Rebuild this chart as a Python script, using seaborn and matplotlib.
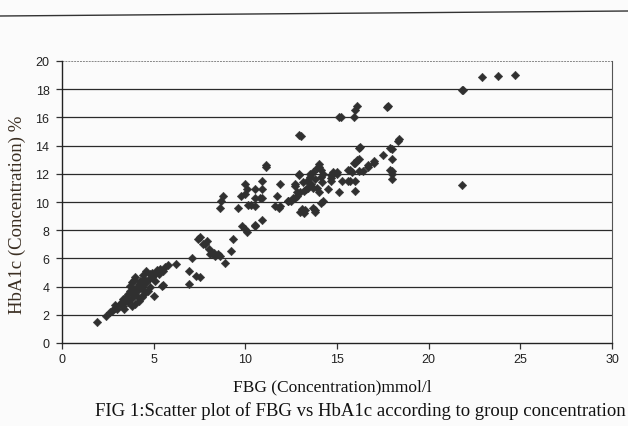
import matplotlib
matplotlib.use("Agg")
import matplotlib.pyplot as plt
import seaborn as sns
import pandas as pd
from matplotlib.lines import Line2D

# FBG (mmol/l) values
fbg = [
    1.9, 2.4, 2.6, 2.7, 2.9, 2.9, 3.15, 3.25, 3.35, 3.45, 3.5, 3.6, 3.7, 3.7, 3.8, 3.9,
    4.0, 4.1, 4.2, 4.25, 4.45, 4.6, 4.8, 5.0, 5.2, 5.35, 5.6, 5.8, 6.2, 5.45, 5.0, 4.0,
    4.45, 4.35, 4.8, 4.7, 4.5, 4.9, 5.07, 3.3, 3.4, 3.6, 3.8, 3.9, 4.0, 4.1, 4.2, 4.3,
    4.4, 4.6, 4.7, 4.2, 3.6, 3.8, 4.4, 4.9, 5.5, 5.3, 5.5, 3.0, 3.9,
    6.9, 6.9, 7.5, 7.1, 7.3, 7.4, 7.5, 7.7, 7.9, 7.8, 8.0, 8.1, 8.2, 8.35, 8.5, 8.6,
    8.3, 8.9, 9.2, 9.35, 9.8, 10.1, 10.0, 10.5, 10.9, 8.6, 8.7, 8.8, 9.6, 9.75, 10.0,
    10.1, 10.0, 10.15, 10.3, 10.5, 10.5, 10.8, 10.9, 10.9, 10.9, 10.5, 10.5, 11.1, 11.15,
    11.6, 11.75, 11.9, 11.85, 11.9, 12.3, 12.35, 12.5, 12.6, 12.7, 12.8, 12.7, 12.7,
    12.95, 12.95, 12.8, 13.0, 13.2, 13.0, 13.1, 13.25, 13.2, 12.95, 13.05,
    13.15, 13.35, 13.5, 13.7, 14.0, 14.1, 13.9, 14.0, 14.25, 13.4, 13.6, 13.8, 13.9,
    14.0, 14.1, 13.5, 13.7, 14.2, 13.3,
    13.7, 13.8, 13.8, 14.1, 14.25, 14.5, 14.7, 14.8, 15.1, 15.0, 14.7, 15.0, 15.25,
    15.6, 15.7, 15.6, 15.8, 16.0, 16.0, 16.0, 15.9, 15.7, 16.1, 16.2, 16.25, 16.2,
    16.4, 16.2, 16.7, 16.7, 17.0, 17.0, 17.5, 18.0, 17.9, 18.0, 18.0, 18.0, 17.9, 18.0,
    18.4, 18.35, 14.8, 14.7,
    15.1, 15.2, 15.9, 16.0, 16.1, 17.8, 17.75,
    21.8, 21.9, 22.9, 23.8, 24.7, 21.8,
]

# HbA1c (%) values
hba1c = [
    1.5, 1.9, 2.2, 2.3, 2.5, 2.7, 2.75, 2.9, 3.1, 3.0, 3.25, 3.5, 3.7, 4.05, 4.3, 3.8,
    4.65, 3.95, 4.2, 4.4, 4.55, 5.1, 4.9, 4.8, 5.2, 5.25, 5.4, 5.5, 5.6, 4.05, 3.35, 2.75,
    3.5, 3.25, 3.95, 3.7, 3.7, 4.65, 4.4, 2.6, 2.4, 2.9, 3.2, 3.4, 3.6, 3.3, 3.8, 3.9,
    4.1, 4.3, 4.5, 3.0, 3.0, 2.6, 4.8, 5.0, 4.1, 4.9, 5.1, 2.4, 4.5,
    5.1, 4.2, 4.7, 6.0, 4.75, 7.4, 7.5, 7.0, 7.2, 7.0, 6.7, 6.3, 6.4, 6.2, 6.3, 6.2,
    6.4, 5.7, 6.5, 7.4, 8.3, 7.9, 8.1, 8.3, 8.75, 9.6, 10.1, 10.45, 9.55, 10.45, 11.3,
    10.9, 10.6, 9.8, 9.8, 10.9, 10.3, 10.3, 11.5, 10.9, 10.25, 9.75, 8.4, 12.6, 12.5,
    9.7, 10.45, 11.3, 9.55, 9.7, 10.1, 10.1, 10.1, 10.25, 10.3, 10.45, 11.3, 11.15,
    12.0, 11.9, 10.7, 10.7, 10.8, 9.3, 9.5, 9.4, 9.2, 14.75, 14.7,
    11.4, 11.5, 11.75, 12.1, 12.7, 12.3, 11.0, 10.7, 12.0, 11.0, 11.3, 11.6, 12.4,
    12.5, 11.8, 12.0, 11.0, 11.4, 10.9,
    9.6, 9.4, 9.3, 9.9, 10.1, 10.9, 11.5, 12.0, 10.7, 12.1, 11.9, 12.0, 11.5,
    11.5, 11.5, 12.3, 12.1, 11.5, 10.8, 12.8, 12.8, 12.3, 13.0, 13.05, 13.9, 13.8,
    12.2, 12.2, 12.6, 12.5, 12.8, 12.9, 13.3, 13.75, 13.8, 13.05, 12.2, 12.0, 12.3, 11.65,
    14.45, 14.35, 12.1, 11.7,
    16.0, 16.0, 16.0, 16.5, 16.8, 16.8, 16.75,
    17.95, 17.95, 18.9, 18.95, 19.0, 11.2,
]

x_ticks = [0, 5, 10, 15, 20, 25, 30]
y_ticks = [0, 2, 4, 6, 8, 10, 12, 14, 16, 18, 20]
x_title = "FBG (Concentration)mmol/l"
y_title = "HbA1c (Concentration) %"
caption = "FIG 1:Scatter plot of FBG vs HbA1c according to group concentration"

df = pd.DataFrame({"FBG": fbg, "HbA1c": hba1c})

sns.set_style("white")
plt.rcParams["font.family"] = ["Liberation Sans", "DejaVu Sans"]

fig = plt.figure(figsize=(6.28, 4.27), dpi=100)
fig.patch.set_facecolor("#fbfbfb")
ax = fig.add_axes([62 / 628, (427 - 344) / 427, 550 / 628, 282 / 427])
ax.set_facecolor("#fbfbfb")

sns.scatterplot(data=df, x="FBG", y="HbA1c", ax=ax, marker="D", s=19,
                color="#303030", edgecolor="#303030", linewidth=0.3, zorder=3)

ax.set_xlim(0, 30)
ax.set_ylim(0, 20)
ax.set_xticks(x_ticks)
ax.set_yticks(y_ticks)
ax.set_xticklabels([str(t) for t in x_ticks], fontsize=9, color="#222222")
ax.set_yticklabels([str(t) for t in y_ticks], fontsize=9, color="#222222")
ax.tick_params(axis="x", direction="out", length=4, width=0.9, color="#333333", pad=3)
ax.tick_params(axis="y", direction="out", length=4, width=0.9, color="#333333", pad=5)
ax.tick_params(left=True, bottom=True)

for yv in y_ticks[1:-1]:
    ax.axhline(yv, color="#2a2a2a", lw=0.9, zorder=1)
ax.axhline(20, color="#888888", lw=0.7, ls=(0, (2, 1)), zorder=1)

for side in ["left", "bottom"]:
    ax.spines[side].set_color("#222222")
    ax.spines[side].set_linewidth(1.0)
ax.spines["top"].set_visible(False)
ax.spines["right"].set_color("#555555")
ax.spines["right"].set_linewidth(0.8)

ax.set_xlabel("")
ax.set_ylabel("")
fig.text(17 / 628, 1 - 215 / 427, y_title, rotation=90, ha="center", va="center",
         fontsize=13.5, family=["Liberation Serif", "DejaVu Serif"], color="#3a2e22")
fig.text(332 / 628, 1 - 387 / 427, x_title, ha="center", va="center",
         fontsize=12.5, family=["Liberation Serif", "DejaVu Serif"], color="#111111")
fig.text(360 / 628, 1 - 411 / 427, caption, ha="center", va="center",
         fontsize=13.5, family=["Liberation Serif", "DejaVu Serif"], color="#111111")

fig.add_artist(Line2D([0, 1], [1 - 17 / 427, 1 - 12 / 427], transform=fig.transFigure,
                      color="#333333", lw=1.0))

fig.savefig("out.png", dpi=100, facecolor=fig.get_facecolor())
